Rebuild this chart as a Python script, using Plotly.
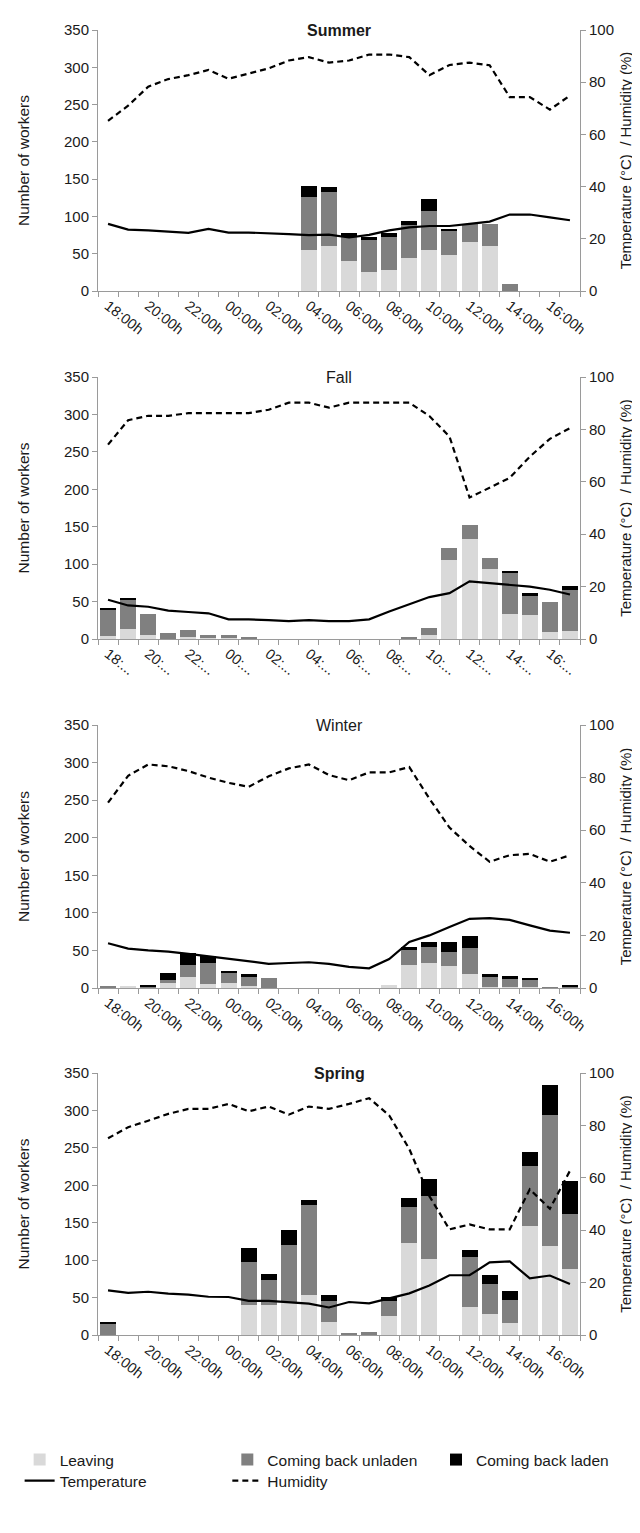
import plotly.graph_objects as go

hours = ["18:00h", "19:00h", "20:00h", "21:00h", "22:00h", "23:00h", "00:00h", "01:00h",
         "02:00h", "03:00h", "04:00h", "05:00h", "06:00h", "07:00h", "08:00h", "09:00h",
         "10:00h", "11:00h", "12:00h", "13:00h", "14:00h", "15:00h", "16:00h", "17:00h"]
tick_labels = ["18:00h", "20:00h", "22:00h", "00:00h", "02:00h", "04:00h",
               "06:00h", "08:00h", "10:00h", "12:00h", "14:00h", "16:00h"]
tick_labels_fall = ["18:...", "20:...", "22:...", "00:...", "02:...", "04:...",
                    "06:...", "08:...", "10:...", "12:...", "14:...", "16:..."]

seasons = ["Summer", "Fall", "Winter", "Spring"]

summer_leaving = [0, 0, 0, 0, 0, 0, 0, 0, 0, 0, 55, 61, 40, 25, 28, 44, 55, 48, 66, 61, 0, 0, 0, 0]
summer_unladen = [0, 0, 0, 0, 0, 0, 0, 0, 0, 0, 71, 72, 32, 44, 45, 45, 52, 33, 24, 29, 10, 0, 0, 0]
summer_laden = [0, 0, 0, 0, 0, 0, 0, 0, 0, 0, 15, 6, 6, 4, 5, 5, 16, 2, 0, 0, 0, 0, 0, 0]
summer_temp = [25.7, 23.5, 23.2, 22.8, 22.3, 23.8, 22.4, 22.4, 22.2, 21.8, 21.4, 21.6,
               20.5, 21.5, 23.2, 24.4, 24.9, 24.9, 25.7, 26.6, 29.3, 29.3, 28.2, 27.1]
summer_hum = [65.2, 71.0, 78.3, 81.2, 82.7, 84.7, 81.3, 83.3, 85.3, 88.3, 89.6, 87.5,
              88.3, 90.6, 90.6, 89.6, 82.7, 86.6, 87.5, 86.5, 74.3, 74.3, 69.5, 74.9]

fall_leaving = [4, 14, 5, 0, 3, 1, 1, 0, 0, 0, 0, 0, 0, 0, 0, 0, 6, 106, 134, 93, 33, 32, 10, 11]
fall_unladen = [35, 39, 29, 8, 9, 4, 4, 2, 0, 0, 0, 0, 0, 0, 0, 2, 9, 16, 18, 15, 56, 25, 40, 54]
fall_laden = [2, 2, 0, 0, 0, 0, 0, 0, 0, 0, 0, 0, 0, 0, 0, 0, 0, 0, 0, 0, 2, 5, 0, 6]
fall_temp = [15.0, 12.8, 12.3, 10.8, 10.3, 9.8, 7.5, 7.5, 7.2, 6.8, 7.2, 6.8,
             6.8, 7.5, 10.5, 13.2, 16.0, 17.5, 22.0, 21.3, 20.6, 20.0, 18.8, 17.0]
fall_hum = [74.2, 83.5, 85.2, 85.2, 86.2, 86.2, 86.2, 86.2, 87.5, 90.2, 90.2, 88.3,
            90.2, 90.2, 90.2, 90.2, 85.1, 77.3, 54.0, 57.8, 61.5, 69.6, 76.4, 80.5]

winter_leaving = [0, 3, 0, 6, 14, 5, 7, 3, 0, 0, 0, 0, 0, 0, 4, 30, 33, 29, 19, 2, 2, 2, 0, 0]
winter_unladen = [3, 0, 1, 4, 16, 28, 13, 11, 13, 0, 0, 0, 0, 0, 0, 21, 22, 19, 34, 12, 10, 8, 1, 2]
winter_laden = [0, 0, 3, 10, 16, 9, 2, 4, 0, 0, 0, 0, 0, 0, 0, 3, 6, 13, 16, 5, 4, 3, 0, 2]
winter_temp = [17.0, 15.0, 14.3, 13.8, 13.0, 12.0, 11.0, 10.0, 9.2, 9.5, 9.8, 9.2,
               8.0, 7.5, 11.0, 17.5, 20.0, 23.2, 26.3, 26.6, 25.9, 23.8, 21.8, 21.0]
winter_hum = [70.5, 80.7, 85.0, 84.3, 82.5, 80.0, 78.0, 76.5, 80.5, 83.5, 85.0, 81.0,
              79.0, 82.0, 82.0, 84.0, 72.0, 61.0, 54.0, 48.0, 50.5, 51.0, 48.0, 50.5]

spring_leaving = [0, 0, 0, 0, 0, 0, 0, 40, 40, 44, 54, 17, 0, 0, 25, 123, 102, 0, 37, 28, 16, 146, 119, 88]
spring_unladen = [15, 0, 0, 0, 0, 0, 0, 57, 33, 76, 120, 29, 3, 4, 21, 48, 84, 0, 67, 40, 31, 80, 175, 74]
spring_laden = [3, 0, 0, 0, 0, 0, 0, 19, 9, 20, 6, 8, 0, 0, 5, 12, 23, 0, 9, 12, 12, 19, 40, 44]
spring_temp = [17.0, 16.1, 16.5, 15.8, 15.4, 14.6, 14.5, 13.0, 13.0, 12.4, 12.0, 10.5,
               12.6, 12.1, 14.0, 15.9, 18.9, 22.8, 22.8, 27.7, 28.1, 21.6, 22.7, 19.5]
spring_hum = [75.1, 79.3, 81.8, 84.4, 86.3, 86.3, 88.2, 85.4, 87.2, 84.1, 87.2, 86.3,
              88.2, 90.4, 83.8, 71.0, 53.0, 40.3, 42.2, 40.3, 40.3, 55.6, 48.2, 62.7]

panels = [
    ("Summer", True, tick_labels, summer_leaving, summer_unladen, summer_laden, summer_temp, summer_hum),
    ("Fall", False, tick_labels_fall, fall_leaving, fall_unladen, fall_laden, fall_temp, fall_hum),
    ("Winter", False, tick_labels, winter_leaving, winter_unladen, winter_laden, winter_temp, winter_hum),
    ("Spring", True, tick_labels, spring_leaving, spring_unladen, spring_laden, spring_temp, spring_hum),
]

W, H = 640, 1533
M_L, M_R, M_T, M_B = 80, 68, 22, 206
PH = H - M_T - M_B
PW = W - M_L - M_R
panel_px = [(22, 283), (369, 631), (717, 980), (1065, 1327)]  # top, bottom in px

C_LEAVE = "#d9d9d9"
C_UNLADEN = "#808080"
C_LADEN = "#000000"
AXC = "#9a9a9a"
FONT = "Liberation Sans, Arial, sans-serif"
TXT = "#1a1a1a"

xidx = list(range(len(hours)))
major_vals = [xidx[hours.index(t)] for t in tick_labels]
boundaries = [i - 0.5 for i in range(len(hours) + 1)]

# legend slots: (legend id, left px, row centre px)
legend_slots = {
    "Leaving": ("legend", 0, 1452),
    "Coming back unladen": ("legend2", 212, 1452),
    "Coming back laden": ("legend3", 425, 1452),
    "Temperature": ("legend4", 0, 1473),
    "Humidity": ("legend5", 212, 1473),
}

fig = go.Figure()
layout = {}
annotations = []

for k, (name, bold, tlabels, lv, un, ld, tp, hm) in enumerate(panels):
    xa = "x" if k == 0 else f"x{k+1}"
    yl = f"y{2*k+1}" if k > 0 else "y"
    yr = f"y{2*k+2}"
    first = k == 0
    fig.add_trace(go.Bar(x=xidx, y=lv, name="Leaving", marker_color=C_LEAVE, marker_line_width=0,
                         xaxis=xa, yaxis=yl, showlegend=first, legend=legend_slots["Leaving"][0]))
    fig.add_trace(go.Bar(x=xidx, y=un, name="Coming back unladen", marker_color=C_UNLADEN,
                         marker_line_width=0, xaxis=xa, yaxis=yl, showlegend=first,
                         legend=legend_slots["Coming back unladen"][0]))
    fig.add_trace(go.Bar(x=xidx, y=ld, name="Coming back laden", marker_color=C_LADEN,
                         marker_line_width=0, xaxis=xa, yaxis=yl, showlegend=first,
                         legend=legend_slots["Coming back laden"][0]))
    fig.add_trace(go.Scatter(x=xidx, y=tp, name="Temperature", mode="lines",
                             line=dict(color="black", width=2.2), xaxis=xa, yaxis=yr,
                             showlegend=first, legend=legend_slots["Temperature"][0]))
    fig.add_trace(go.Scatter(x=xidx, y=hm, name="Humidity", mode="lines",
                             line=dict(color="black", width=2.2, dash="6px,4px"), xaxis=xa, yaxis=yr,
                             showlegend=first, legend=legend_slots["Humidity"][0]))

    top, bot = panel_px[k]
    d0 = (H - M_B - bot) / PH
    d1 = (H - M_B - top) / PH
    xkey = "xaxis" if k == 0 else f"xaxis{k+1}"
    ylkey = "yaxis" if k == 0 else f"yaxis{2*k+1}"
    yrkey = f"yaxis{2*k+2}"
    layout[xkey] = dict(
        domain=[0, 1], anchor=yl, range=[-0.5, len(hours) - 0.5],
        tickmode="array", tickvals=major_vals, ticktext=tlabels, tickangle=38,
        ticks="", showline=True, linecolor=AXC, linewidth=1, showgrid=False, zeroline=False,
        tickfont=dict(family=FONT, size=14.5, color=TXT),
        minor=dict(tickmode="array", tickvals=boundaries, ticks="outside", ticklen=5,
                   tickcolor=AXC, tickwidth=1, showgrid=False),
    )
    layout[ylkey] = dict(
        domain=[d0, d1], anchor=xa, range=[0, 350], tickmode="linear", tick0=0, dtick=50,
        ticks="outside", ticklen=5, tickcolor=AXC, showline=True, linecolor=AXC, linewidth=1,
        showgrid=False, zeroline=False, tickfont=dict(family=FONT, size=15, color=TXT),
        title=dict(text="Number of workers", font=dict(family=FONT, size=15.5, color=TXT), standoff=30),
    )
    layout[yrkey] = dict(
        domain=[d0, d1], anchor=xa, overlaying=yl, side="right", range=[0, 100],
        tickmode="linear", tick0=0, dtick=20, ticks="outside", ticklen=5, tickcolor=AXC,
        showline=True, linecolor=AXC, linewidth=1, showgrid=False, zeroline=False,
        tickfont=dict(family=FONT, size=15, color=TXT),
        title=dict(text="Temperature (°C)  / Humidity (%)", font=dict(family=FONT, size=15, color=TXT),
                   standoff=7),
    )
    annotations.append(dict(
        text=f"<b>{name}</b>" if bold else name, x=0.5, xref="paper", y=d1, yref="paper",
        yanchor="middle", xanchor="center", showarrow=False,
        font=dict(family=FONT, size=16, color=TXT)))

for nm, (lid, lx, lyc) in legend_slots.items():
    layout[lid] = dict(
        orientation="v", xanchor="left", yanchor="middle",
        x=(lx - M_L) / PW, y=-(lyc - (H - M_B)) / PH,
        bgcolor="rgba(0,0,0,0)", font=dict(family=FONT, size=15.5, color=TXT),
        itemwidth=30, traceorder="normal",
    )

fig.update_layout(
    width=W, height=H, margin=dict(l=M_L, r=M_R, t=M_T, b=M_B),
    barmode="stack", bargap=0.2, plot_bgcolor="white", paper_bgcolor="white",
    annotations=annotations, font=dict(family=FONT, color=TXT), **layout,
)

fig.write_html("out.html")
